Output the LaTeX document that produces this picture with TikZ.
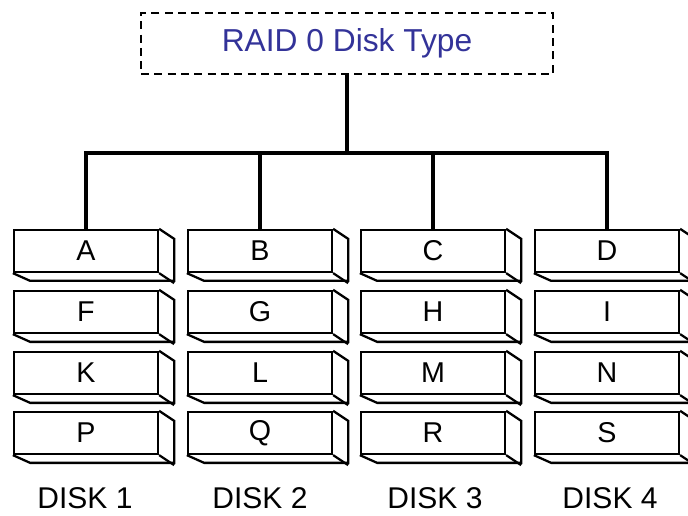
\documentclass[tikz,border=0pt]{standalone}
\usepackage{fontspec}
\setmainfont{Liberation Sans}
\usepackage{tikz}
\usetikzlibrary{positioning, calc}
\usepackage{xcolor}
\definecolor{raidblue}{RGB}{51,51,153}

\tikzset{
	stripe/.style={draw, line width=1.7pt, line join=miter, minimum width=108pt, minimum height=31.5pt, inner sep=0pt, font=\fontsize{21.5}{22}\selectfont},
	face/.style={line width=1.7pt, line join=miter},
	wire/.style={-, line width=2.4pt},
	disklabel/.style={font=\fontsize{22.5}{23}\selectfont},
}

\begin{document}
\begin{tikzpicture}[x=0.75pt, y=-0.75pt]
	\useasboundingbox (0,0) rectangle (688,516);
	
	\node[draw, dashed, line width=1.5pt, dash pattern=on 6pt off 4pt, minimum width=309pt, minimum height=45.75pt, text=raidblue, font=\fontsize{23.8}{24}\selectfont] at (347,43.5) (raid) {RAID 0 Disk Type};
	
	% stripes, one column per disk
	\foreach \lbl/\x/\y in {A/86/251, F/86/312, K/86/373, P/86/433,
		B/260/251, G/260/312, L/260/373, Q/260/433,
		C/433/251, H/433/312, M/433/373, R/433/433,
		D/607/251, I/607/312, N/607/373, S/607/433} {
		\node[stripe] at (\x,\y) (\lbl) {\lbl};
		\draw[face] (\lbl.north east) -- ++(15,10) -- ++(0,42) -- ++(-144,0) -- (\lbl.south west);
		\draw[face] (\lbl.south east) -- ++(15,10);
	}
	
	\node[disklabel] at (85,498) (disk1) {DISK 1};
	\node[disklabel] at (260,498) (disk2) {DISK 2};
	\node[disklabel] at (435,498) (disk3) {DISK 3};
	\node[disklabel] at (610,498) (disk4) {DISK 4};
	
	\coordinate (bus) at (347,153);
	\draw[wire] (raid.south) -- (bus);
	\draw[wire] (A.north) -- (A.north |- bus) -- (D.north |- bus) -- (D.north);
	\draw[wire] (B.north) -- (B.north |- bus);
	\draw[wire] (C.north) -- (C.north |- bus);
\end{tikzpicture}
\end{document}
